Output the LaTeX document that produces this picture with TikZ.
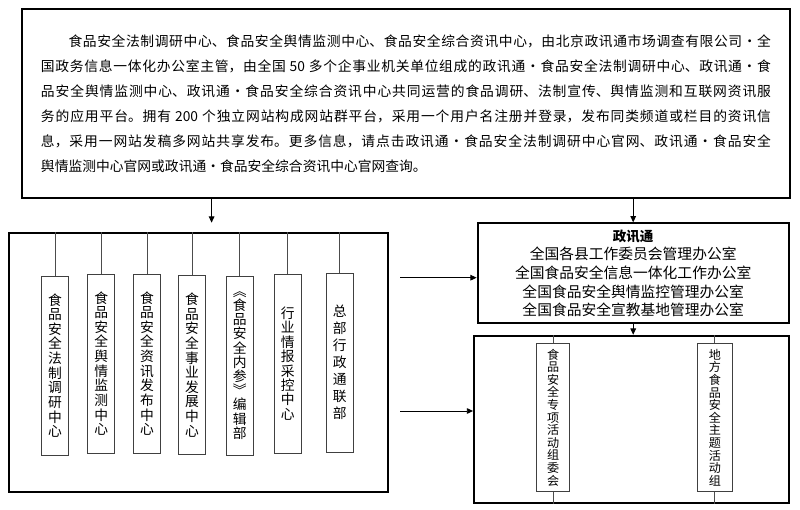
\documentclass[tikz,border=0pt]{standalone}
\usepackage{fontspec}
\setmainfont{Noto Sans CJK SC}
\usetikzlibrary{arrows.meta}
\XeTeXlinebreaklocale "zh"
\XeTeXlinebreakskip=0pt plus 1pt
\def\vtxt#1{\vtxtA#1\relax}
\def\vtxtA#1#2\relax{#1\ifx\relax#2\relax\else\\\vtxtA#2\relax\fi}
\tikzset{
	outer/.style={draw=black, line width=1.3pt, inner sep=0pt},
	unit/.style={draw=black!75, line width=0.6pt, minimum width=0.675cm, minimum height=4.475cm, inner sep=0pt, align=center},
	link/.style={draw=black!70, line width=0.6pt},
	arr/.style={-{Triangle[length=4.5pt,width=4pt]}, line width=0.7pt}
}

\begin{document}
\begin{tikzpicture}
			%%%%% START %%%%%
			\useasboundingbox (0,0) rectangle (20,12.725);
			
			\node[outer, minimum width=19.2cm, minimum height=4.725cm, text width=18.25cm, align=justify, font=\fontsize{9.8}{17.8}\selectfont] (intro) at (10.15,10.1375) {\hspace*{2em}食品安全法制调研中心、食品安全舆情监测中心、食品安全综合资讯中心，由北京政讯通市场调查有限公司•全\linebreak
国政务信息一体化办公室主管，由全国 50 多个企事业机关单位组成的政讯通•食品安全法制调研中心、政讯通•食\linebreak
品安全舆情监测中心、政讯通•食品安全综合资讯中心共同运营的食品调研、法制宣传、舆情监测和互联网资讯服\linebreak
务的应用平台。拥有 200 个独立网站构成网站群平台，采用一个用户名注册并登录，发布同类频道或栏目的资讯信\linebreak
息，采用一网站发稿多网站共享发布。更多信息，请点击政讯通•食品安全法制调研中心官网、政讯通•食品安全\linebreak
舆情监测中心官网或政讯通•食品安全综合资讯中心官网查询。};
			
			% left: centres
			\node[outer, minimum width=9.475cm, minimum height=6.475cm] (units) at (4.9625,3.6625) {};
			\coordinate (gap) at (5.29,7.1575);
			\draw[arr] (intro.south -| gap) -- (gap);
			
			\foreach \n/\x/\y/\s/\t in {u1/1.375/3.5875/10.4/食品安全法制调研中心, u2/2.534/3.6375/10.4/食品安全舆情监测中心, u3/3.675/3.6375/10.4/食品安全资讯发布中心, u4/4.8/3.6/10.4/食品安全事业发展中心, u5/5.991/3.5875/10.1/︽食品安全内参︾编辑部, u6/7.191/3.6375/10.25/行业情报采控中心, u7/8.491/3.6625/12.1/总部行政通联部}{
				\node[unit, font=\fontsize{9.8}{\s}\selectfont] (\n) at (\x,\y) {\expandafter\vtxt\expandafter{\t}};
				\draw[link] (\n.north |- units.north) -- (\n.north);
			}
			
			% right: offices
			\node[outer, minimum width=7.78cm, minimum height=2.5cm, align=center, font=\fontsize{10.5}{13.2}\selectfont] (office) at (15.83,5.8925) {\textbf{\fontsize{9.6}{13.2}\selectfont 政讯通}\\全国各县工作委员会管理办公室\\全国食品安全信息一体化工作办公室\\全国食品安全舆情监控管理办公室\\全国食品安全宣教基地管理办公室};
			\draw[arr] (intro.south -| office.north) -- (office.north);
			
			\node[outer, minimum width=7.875cm, minimum height=4.19cm] (groups) at (15.7875,2.2375) {};
			\draw[arr] (office.south) -- (office.south |- groups.north);
			
			\node[unit, minimum width=0.833cm, minimum height=3.71cm, font=\fontsize{8.6}{8.96}\selectfont] (g1) at (13.83,2.2875) {\vtxt{食品安全专项活动组委会}};
			\node[unit, minimum width=0.875cm, minimum height=3.71cm, font=\fontsize{8.6}{8.96}\selectfont] (g2) at (17.87,2.2875) {\vtxt{地方食品安全主题活动组}};
			\draw[link] (g1.north |- groups.north) -- (g1.north);
			\draw[link] (g1.south) -- (g1.south |- groups.south);
			\draw[link] (g2.north |- groups.north) -- (g2.north);
			\draw[link] (g2.south) -- (g2.south |- groups.south);
			
			\coordinate (inA) at (10,5.7825);
			\draw[arr] (inA) -- (inA -| office.west);
			\coordinate (inB) at (10,2.45);
			\draw[arr] (inB) -- (inB -| groups.west);
			
			%%%%% END %%%%%
		\end{tikzpicture}
\end{document}
